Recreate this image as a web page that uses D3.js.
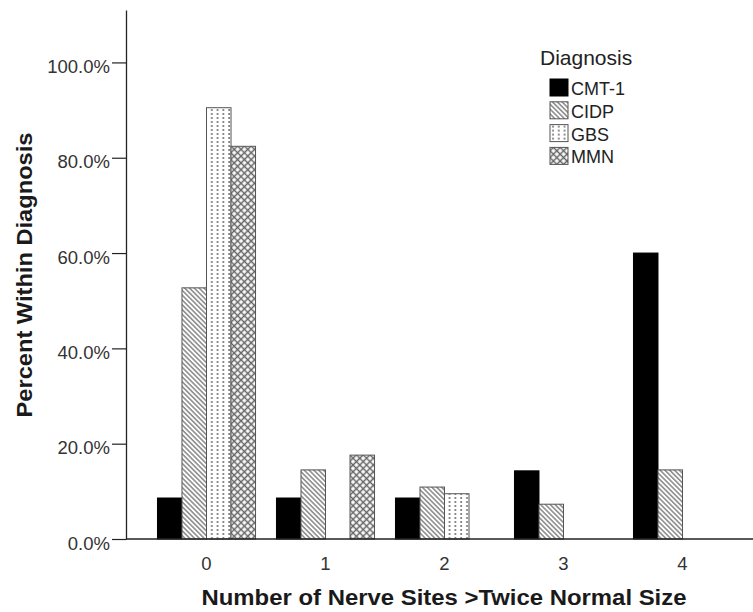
<!DOCTYPE html>
<html>
<head>
<meta charset="utf-8">
<script src="https://cdn.jsdelivr.net/npm/d3@7"></script>
<style>
  body { margin: 0; background: #fff; }
  svg { display: block; font-family: Arial, "Liberation Sans", sans-serif; }
</style>
</head>
<body>
<div id="chart"></div>
<script>
// chart data (percent within diagnosis)
const categories = ["0", "1", "2", "3", "4"];
const diagnoses = ["CMT-1", "CIDP", "GBS", "MMN"];
const cmt1 = [8.6, 8.6, 8.6, 14.3, 60.0];
const cidp = [52.7, 14.5, 10.9, 7.3, 14.5];
const gbs = [90.5, 0, 9.5, 0, 0];
const mmn = [82.4, 17.6, 0, 0, 0];
const yTicks = [0, 20, 40, 60, 80, 100];

const width = 753, height = 612;
const seriesValues = [cmt1, cidp, gbs, mmn];

const svg = d3.select("#chart").append("svg")
  .attr("width", width)
  .attr("height", height);

// fill patterns, one per diagnosis
const defs = svg.append("defs");

const pCidp = defs.append("pattern")
  .attr("id", "p-cidp")
  .attr("patternUnits", "userSpaceOnUse")
  .attr("width", 3.4).attr("height", 3.4)
  .attr("patternTransform", "rotate(-45)");
pCidp.append("rect").attr("width", 3.4).attr("height", 3.4).attr("fill", "#fff");
pCidp.append("line")
  .attr("x1", 1.7).attr("y1", 0).attr("x2", 1.7).attr("y2", 3.4)
  .attr("stroke", "#5a5a5a").attr("stroke-width", 1.1);

const pGbs = defs.append("pattern")
  .attr("id", "p-gbs")
  .attr("patternUnits", "userSpaceOnUse")
  .attr("width", 5.8).attr("height", 4);
pGbs.append("rect").attr("width", 5.8).attr("height", 4).attr("fill", "#fff");
pGbs.append("rect")
  .attr("x", 2.2).attr("y", 1.2).attr("width", 1.6).attr("height", 1.6)
  .attr("fill", "#555");

const pMmn = defs.append("pattern")
  .attr("id", "p-mmn")
  .attr("patternUnits", "userSpaceOnUse")
  .attr("width", 4.8).attr("height", 4.8)
  .attr("patternTransform", "rotate(45)");
pMmn.append("rect").attr("width", 4.8).attr("height", 4.8).attr("fill", "#fff");
pMmn.append("path")
  .attr("d", "M0,2.4H4.8M2.4,0V4.8")
  .attr("stroke", "#666").attr("stroke-width", 1.5);

const fills = ["#000", "url(#p-cidp)", "url(#p-gbs)", "url(#p-mmn)"];
const strokes = ["#000", "#555", "#555", "#555"];

// scales
const x = d3.scaleBand()
  .domain(categories)
  .range([147, 742])
  .paddingInner(0.176)
  .paddingOuter(0.088);

const xSub = d3.scaleBand()
  .domain(diagnoses)
  .range([0, x.bandwidth()]);

const y = d3.scaleLinear()
  .domain([0, 111])
  .range([539, 10]);

// bars
const rows = [];
categories.forEach((c, i) => {
  diagnoses.forEach((d, j) => {
    if (seriesValues[j][i] > 0) rows.push({ cat: c, diag: d, idx: j, value: seriesValues[j][i] });
  });
});

svg.append("g")
  .selectAll("rect")
  .data(rows)
  .join("rect")
  .attr("x", d => x(d.cat) + xSub(d.diag))
  .attr("y", d => y(d.value))
  .attr("width", xSub.bandwidth())
  .attr("height", d => y(0) - y(d.value))
  .attr("fill", d => fills[d.idx])
  .attr("stroke", d => strokes[d.idx])
  .attr("stroke-width", 1);

// y axis
const yAxis = svg.append("g")
  .attr("transform", "translate(126,0)")
  .call(d3.axisLeft(y)
    .tickValues(yTicks)
    .tickFormat(d => d.toFixed(1) + "%")
    .tickSizeInner(14)
    .tickSizeOuter(0)
    .tickPadding(2));
yAxis.select(".domain").attr("stroke", "#222").attr("stroke-width", 1.3);
yAxis.selectAll(".tick line").attr("stroke", "#222").attr("stroke-width", 1.2);
yAxis.selectAll(".tick text")
  .attr("font-size", 18.5)
  .attr("fill", "#333")
  .attr("dy", "0.55em")
  .style("font-family", "Arial, 'Liberation Sans', sans-serif");

// x axis
const xAxis = svg.append("g")
  .attr("transform", "translate(0," + y(0) + ")")
  .call(d3.axisBottom(x).tickSize(0).tickPadding(18));
xAxis.select(".domain")
  .attr("d", "M126,0H" + width)
  .attr("stroke", "#222").attr("stroke-width", 1.3);
xAxis.selectAll(".tick text")
  .attr("font-size", 18.5)
  .attr("fill", "#333")
  .style("font-family", "Arial, 'Liberation Sans', sans-serif");

// axis titles
svg.append("text")
  .attr("x", 444)
  .attr("y", 605)
  .attr("text-anchor", "middle")
  .attr("font-size", 22)
  .attr("font-weight", "bold")
  .attr("fill", "#1a1a1a")
  .attr("textLength", 485)
  .attr("lengthAdjust", "spacingAndGlyphs")
  .text("Number of Nerve Sites >Twice Normal Size");

svg.append("text")
  .attr("transform", "translate(32,275) rotate(-90)")
  .attr("text-anchor", "middle")
  .attr("font-size", 22)
  .attr("font-weight", "bold")
  .attr("fill", "#1a1a1a")
  .attr("textLength", 285)
  .attr("lengthAdjust", "spacingAndGlyphs")
  .text("Percent Within Diagnosis");

// legend
const legend = svg.append("g").attr("transform", "translate(540,0)");
legend.append("text")
  .attr("x", 0)
  .attr("y", 65)
  .attr("font-size", 21)
  .attr("fill", "#222")
  .text("Diagnosis");

const items = legend.selectAll("g.item")
  .data(diagnoses)
  .join("g")
  .attr("class", "item")
  .attr("transform", (d, i) => "translate(10," + (79 + i * 22.8) + ")");
items.append("rect")
  .attr("width", 18).attr("height", 17)
  .attr("fill", (d, i) => fills[i])
  .attr("stroke", (d, i) => strokes[i])
  .attr("stroke-width", 1);
items.append("text")
  .attr("x", 21)
  .attr("y", 16)
  .attr("font-size", 18)
  .attr("fill", "#222")
  .text(d => d);
</script>
</body>
</html>
